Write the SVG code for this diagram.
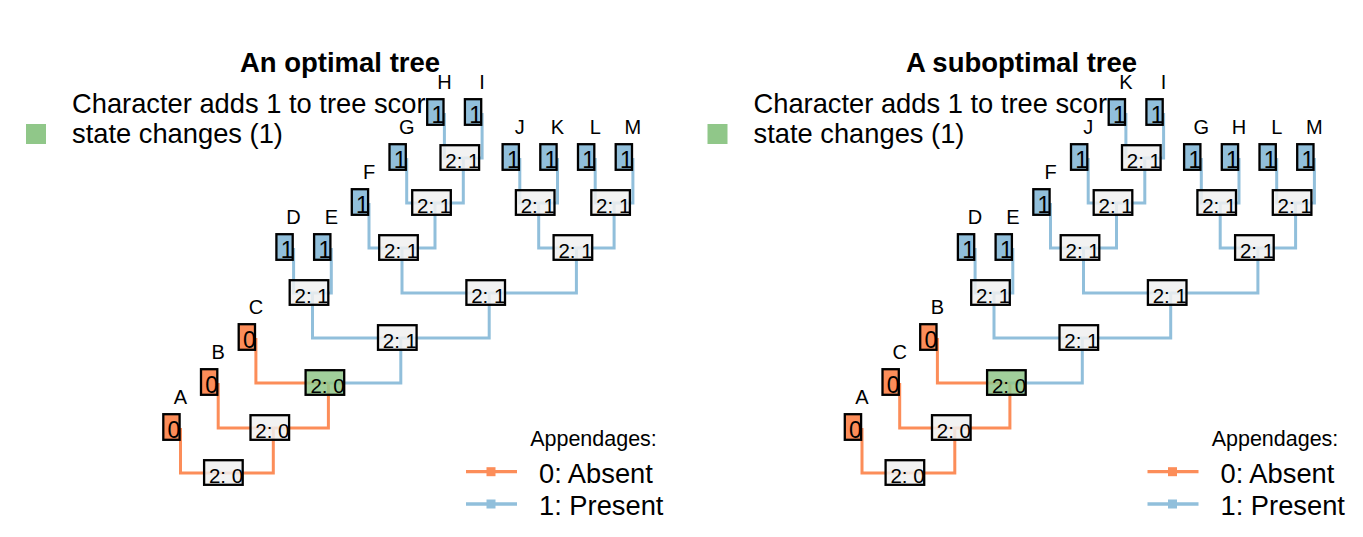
<svg xmlns="http://www.w3.org/2000/svg" width="1363" height="537" viewBox="0 0 1363 537">
<style>
text{font-family:"Liberation Sans",Arial,sans-serif;fill:#000}
.title{font-size:27.5px;font-weight:bold;text-anchor:middle}
.leg{font-size:27.3px}
.legt{font-size:21.5px;text-anchor:middle}
.e{fill:none;stroke-width:3;stroke-linejoin:miter;stroke-linecap:butt}
.s0{stroke:#fc8d59}
.s1{stroke:#91bfdb}
.nb{fill:#f0f0f0;fill-opacity:0.85;stroke:#000;stroke-width:2.3}
.ng{fill:#90c789;fill-opacity:0.85;stroke:#000;stroke-width:2.3}
.t0{fill:#fc8d59;stroke:#000;stroke-width:2.3}
.t1{fill:#91bfdb;stroke:#000;stroke-width:2.3}
.nt{font-size:20.5px}
.td{font-size:23px;text-anchor:middle}
.tl{font-size:20px;text-anchor:middle}
</style>
<defs>
<g id="edges">
<path class="e s0" d="M226.9,473H180.5V428"/>
<path class="e s0" d="M226.9,473H273.3V428"/>
<path class="e s0" d="M273.3,428H218.2V383"/>
<path class="e s0" d="M273.3,428H328.4V383"/>
<path class="e s0" d="M328.4,383H255.9V338"/>
<path class="e s1" d="M328.4,383H400.8V338"/>
<path class="e s1" d="M400.8,338H312.5V293"/>
<path class="e s1" d="M400.8,338H489.2V293"/>
<path class="e s1" d="M312.5,293H293.6V248"/>
<path class="e s1" d="M312.5,293H331.3V248"/>
<path class="e s1" d="M489.2,293H402V248"/>
<path class="e s1" d="M489.2,293H576.4V248"/>
<path class="e s1" d="M402,248H369V203"/>
<path class="e s1" d="M402,248H435V203"/>
<path class="e s1" d="M435,203H406.7V158"/>
<path class="e s1" d="M435,203H463.3V158"/>
<path class="e s1" d="M463.3,158H444.4V113"/>
<path class="e s1" d="M463.3,158H482.1V113"/>
<path class="e s1" d="M576.4,248H538.7V203"/>
<path class="e s1" d="M576.4,248H614.1V203"/>
<path class="e s1" d="M538.7,203H519.8V158"/>
<path class="e s1" d="M538.7,203H557.5V158"/>
<path class="e s1" d="M614.1,203H595.2V158"/>
<path class="e s1" d="M614.1,203H632.9V158"/>
</g>
</defs>
<rect width="1363" height="537" fill="#fff"/>

<!-- LEFT PANEL -->
<g id="left-panel">
<text class="title" x="340" y="72">An optimal tree</text>
<g id="L-legend-top">
<rect x="26" y="124" width="20" height="20" fill="#90c789"/>
<text class="leg" x="72" y="112.5">Character adds 1 to tree scor</text>
<text class="leg" x="72" y="142.5">state changes (1)</text>
</g>
<g id="L-connectors"><use href="#edges"/></g>
<g id="L-root"><rect class="nb" x="204.1" y="460.2" width="38.6" height="24.6"/><text class="nt" x="208.9" y="482.5">2: 0</text></g>
<g id="L-n2"><rect class="nb" x="250.5" y="415.2" width="38.6" height="24.6"/><text class="nt" x="255.3" y="437.5">2: 0</text></g>
<g id="L-n3"><rect class="ng" x="305.6" y="370.2" width="38.6" height="24.6"/><text class="nt" x="310.4" y="392.5">2: 0</text></g>
<g id="L-n4"><rect class="nb" x="378" y="325.2" width="38.6" height="24.6"/><text class="nt" x="382.8" y="347.5">2: 1</text></g>
<g id="L-nDE"><rect class="nb" x="289.7" y="280.2" width="38.6" height="24.6"/><text class="nt" x="294.5" y="302.5">2: 1</text></g>
<g id="L-nX"><rect class="nb" x="466.4" y="280.2" width="38.6" height="24.6"/><text class="nt" x="471.2" y="302.5">2: 1</text></g>
<g id="L-nF"><rect class="nb" x="379.2" y="235.2" width="38.6" height="24.6"/><text class="nt" x="384" y="257.5">2: 1</text></g>
<g id="L-nJKLM"><rect class="nb" x="553.6" y="235.2" width="38.6" height="24.6"/><text class="nt" x="558.4" y="257.5">2: 1</text></g>
<g id="L-nG"><rect class="nb" x="412.2" y="190.2" width="38.6" height="24.6"/><text class="nt" x="417" y="212.5">2: 1</text></g>
<g id="L-nJK"><rect class="nb" x="515.9" y="190.2" width="38.6" height="24.6"/><text class="nt" x="520.7" y="212.5">2: 1</text></g>
<g id="L-nLM"><rect class="nb" x="591.3" y="190.2" width="38.6" height="24.6"/><text class="nt" x="596.1" y="212.5">2: 1</text></g>
<g id="L-nHI"><rect class="nb" x="440.5" y="145.2" width="38.6" height="24.6"/><text class="nt" x="445.3" y="167.5">2: 1</text></g>
<g id="L-A"><rect class="t0" x="163.3" y="414.2" width="16.3" height="25.6"/><text class="td" x="174" y="437.5">0</text><text class="tl" x="180.5" y="403.5">A</text></g>
<g id="L-B"><rect class="t0" x="201" y="369.2" width="16.3" height="25.6"/><text class="td" x="211.7" y="392.5">0</text><text class="tl" x="218.2" y="358.5">B</text></g>
<g id="L-C"><rect class="t0" x="238.7" y="324.2" width="16.3" height="25.6"/><text class="td" x="249.4" y="347.5">0</text><text class="tl" x="255.9" y="313.5">C</text></g>
<g id="L-D"><rect class="t1" x="276.4" y="234.2" width="16.3" height="25.6"/><text class="td" x="287.1" y="257.5">1</text><text class="tl" x="293.6" y="223.5">D</text></g>
<g id="L-E"><rect class="t1" x="314.1" y="234.2" width="16.3" height="25.6"/><text class="td" x="324.8" y="257.5">1</text><text class="tl" x="331.3" y="223.5">E</text></g>
<g id="L-F"><rect class="t1" x="351.8" y="189.2" width="16.3" height="25.6"/><text class="td" x="362.5" y="212.5">1</text><text class="tl" x="369" y="178.5">F</text></g>
<g id="L-G"><rect class="t1" x="389.5" y="144.2" width="16.3" height="25.6"/><text class="td" x="400.2" y="167.5">1</text><text class="tl" x="406.7" y="133.5">G</text></g>
<g id="L-H"><rect class="t1" x="427.2" y="99.2" width="16.3" height="25.6"/><text class="td" x="437.9" y="122.5">1</text><text class="tl" x="444.4" y="88.5">H</text></g>
<g id="L-I"><rect class="t1" x="464.9" y="99.2" width="16.3" height="25.6"/><text class="td" x="475.6" y="122.5">1</text><text class="tl" x="482.1" y="88.5">I</text></g>
<g id="L-J"><rect class="t1" x="502.6" y="144.2" width="16.3" height="25.6"/><text class="td" x="513.3" y="167.5">1</text><text class="tl" x="519.8" y="133.5">J</text></g>
<g id="L-K"><rect class="t1" x="540.3" y="144.2" width="16.3" height="25.6"/><text class="td" x="551" y="167.5">1</text><text class="tl" x="557.5" y="133.5">K</text></g>
<g id="L-L"><rect class="t1" x="578" y="144.2" width="16.3" height="25.6"/><text class="td" x="588.7" y="167.5">1</text><text class="tl" x="595.2" y="133.5">L</text></g>
<g id="L-M"><rect class="t1" x="615.7" y="144.2" width="16.3" height="25.6"/><text class="td" x="626.4" y="167.5">1</text><text class="tl" x="632.9" y="133.5">M</text></g>
<g id="L-legend">
<text class="legt" x="593.5" y="445.5">Appendages:</text>
<line x1="466" y1="471.7" x2="517" y2="471.7" stroke="#fc8d59" stroke-width="3.3"/>
<rect x="486.5" y="467.2" width="9" height="9" fill="#fc8d59"/>
<line x1="466" y1="504" x2="517" y2="504" stroke="#91bfdb" stroke-width="3.3"/>
<rect x="486.5" y="499.5" width="9" height="9" fill="#91bfdb"/>
<text class="leg" x="539" y="483">0: Absent</text>
<text class="leg" x="539" y="515">1: Present</text>
</g>
</g>

<!-- RIGHT PANEL -->
<g id="right-panel" transform="translate(681.5,0)">
<text class="title" x="340" y="72">A suboptimal tree</text>
<g id="R-legend-top">
<rect x="26" y="124" width="20" height="20" fill="#90c789"/>
<text class="leg" x="72" y="112.5">Character adds 1 to tree scor</text>
<text class="leg" x="72" y="142.5">state changes (1)</text>
</g>
<g id="R-connectors"><use href="#edges"/></g>
<g id="R-root"><rect class="nb" x="204.1" y="460.2" width="38.6" height="24.6"/><text class="nt" x="208.9" y="482.5">2: 0</text></g>
<g id="R-n2"><rect class="nb" x="250.5" y="415.2" width="38.6" height="24.6"/><text class="nt" x="255.3" y="437.5">2: 0</text></g>
<g id="R-n3"><rect class="ng" x="305.6" y="370.2" width="38.6" height="24.6"/><text class="nt" x="310.4" y="392.5">2: 0</text></g>
<g id="R-n4"><rect class="nb" x="378" y="325.2" width="38.6" height="24.6"/><text class="nt" x="382.8" y="347.5">2: 1</text></g>
<g id="R-nDE"><rect class="nb" x="289.7" y="280.2" width="38.6" height="24.6"/><text class="nt" x="294.5" y="302.5">2: 1</text></g>
<g id="R-nX"><rect class="nb" x="466.4" y="280.2" width="38.6" height="24.6"/><text class="nt" x="471.2" y="302.5">2: 1</text></g>
<g id="R-nF"><rect class="nb" x="379.2" y="235.2" width="38.6" height="24.6"/><text class="nt" x="384" y="257.5">2: 1</text></g>
<g id="R-nGHLM"><rect class="nb" x="553.6" y="235.2" width="38.6" height="24.6"/><text class="nt" x="558.4" y="257.5">2: 1</text></g>
<g id="R-nJ"><rect class="nb" x="412.2" y="190.2" width="38.6" height="24.6"/><text class="nt" x="417" y="212.5">2: 1</text></g>
<g id="R-nGH"><rect class="nb" x="515.9" y="190.2" width="38.6" height="24.6"/><text class="nt" x="520.7" y="212.5">2: 1</text></g>
<g id="R-nLM"><rect class="nb" x="591.3" y="190.2" width="38.6" height="24.6"/><text class="nt" x="596.1" y="212.5">2: 1</text></g>
<g id="R-nKI"><rect class="nb" x="440.5" y="145.2" width="38.6" height="24.6"/><text class="nt" x="445.3" y="167.5">2: 1</text></g>
<g id="R-A"><rect class="t0" x="163.3" y="414.2" width="16.3" height="25.6"/><text class="td" x="174" y="437.5">0</text><text class="tl" x="180.5" y="403.5">A</text></g>
<g id="R-C"><rect class="t0" x="201" y="369.2" width="16.3" height="25.6"/><text class="td" x="211.7" y="392.5">0</text><text class="tl" x="218.2" y="358.5">C</text></g>
<g id="R-B"><rect class="t0" x="238.7" y="324.2" width="16.3" height="25.6"/><text class="td" x="249.4" y="347.5">0</text><text class="tl" x="255.9" y="313.5">B</text></g>
<g id="R-D"><rect class="t1" x="276.4" y="234.2" width="16.3" height="25.6"/><text class="td" x="287.1" y="257.5">1</text><text class="tl" x="293.6" y="223.5">D</text></g>
<g id="R-E"><rect class="t1" x="314.1" y="234.2" width="16.3" height="25.6"/><text class="td" x="324.8" y="257.5">1</text><text class="tl" x="331.3" y="223.5">E</text></g>
<g id="R-F"><rect class="t1" x="351.8" y="189.2" width="16.3" height="25.6"/><text class="td" x="362.5" y="212.5">1</text><text class="tl" x="369" y="178.5">F</text></g>
<g id="R-J"><rect class="t1" x="389.5" y="144.2" width="16.3" height="25.6"/><text class="td" x="400.2" y="167.5">1</text><text class="tl" x="406.7" y="133.5">J</text></g>
<g id="R-K"><rect class="t1" x="427.2" y="99.2" width="16.3" height="25.6"/><text class="td" x="437.9" y="122.5">1</text><text class="tl" x="444.4" y="88.5">K</text></g>
<g id="R-I"><rect class="t1" x="464.9" y="99.2" width="16.3" height="25.6"/><text class="td" x="475.6" y="122.5">1</text><text class="tl" x="482.1" y="88.5">I</text></g>
<g id="R-G"><rect class="t1" x="502.6" y="144.2" width="16.3" height="25.6"/><text class="td" x="513.3" y="167.5">1</text><text class="tl" x="519.8" y="133.5">G</text></g>
<g id="R-H"><rect class="t1" x="540.3" y="144.2" width="16.3" height="25.6"/><text class="td" x="551" y="167.5">1</text><text class="tl" x="557.5" y="133.5">H</text></g>
<g id="R-L"><rect class="t1" x="578" y="144.2" width="16.3" height="25.6"/><text class="td" x="588.7" y="167.5">1</text><text class="tl" x="595.2" y="133.5">L</text></g>
<g id="R-M"><rect class="t1" x="615.7" y="144.2" width="16.3" height="25.6"/><text class="td" x="626.4" y="167.5">1</text><text class="tl" x="632.9" y="133.5">M</text></g>
<g id="R-legend">
<text class="legt" x="593.5" y="445.5">Appendages:</text>
<line x1="466" y1="471.7" x2="517" y2="471.7" stroke="#fc8d59" stroke-width="3.3"/>
<rect x="486.5" y="467.2" width="9" height="9" fill="#fc8d59"/>
<line x1="466" y1="504" x2="517" y2="504" stroke="#91bfdb" stroke-width="3.3"/>
<rect x="486.5" y="499.5" width="9" height="9" fill="#91bfdb"/>
<text class="leg" x="539" y="483">0: Absent</text>
<text class="leg" x="539" y="515">1: Present</text>
</g>
</g>
</svg>
